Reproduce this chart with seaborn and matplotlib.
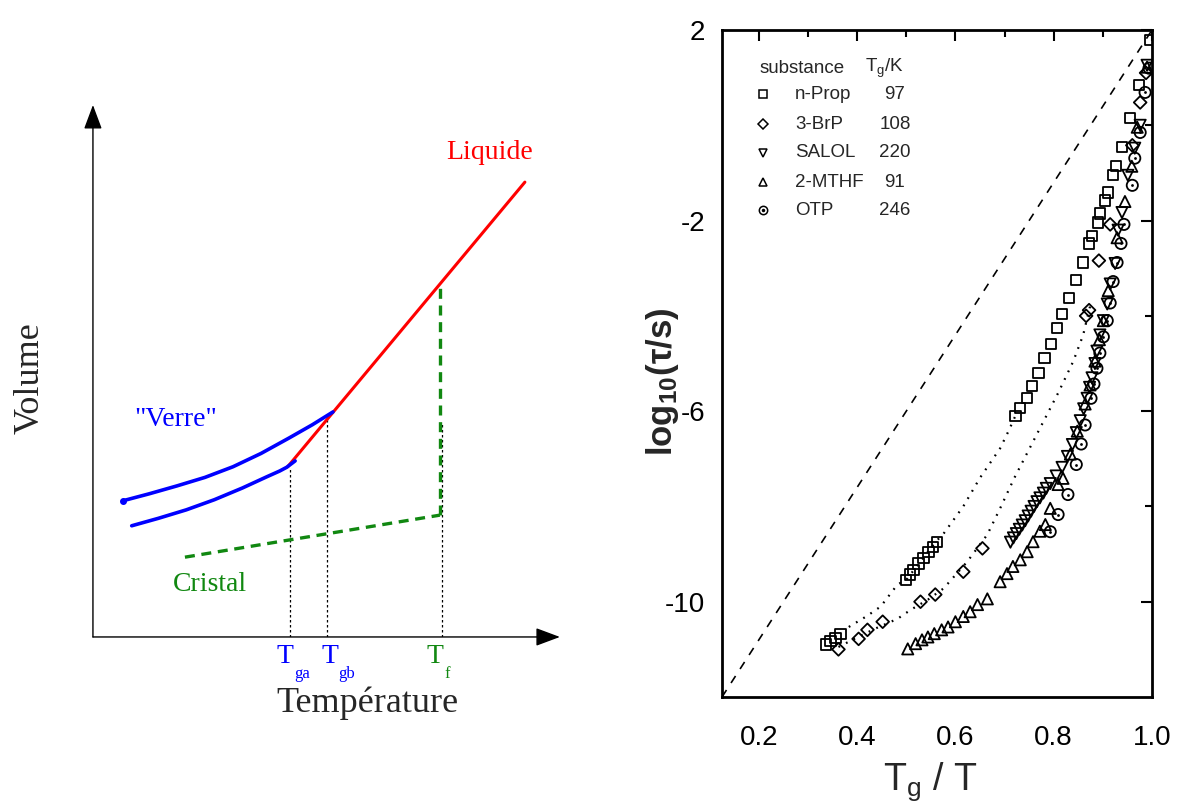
import numpy as np
import pandas as pd
import matplotlib
matplotlib.use("Agg")
import matplotlib.pyplot as plt
import seaborn as sns

# ---------------- data: left schematic (Volume vs Temperature) ----------------
liquid_T = [4.17, 9.25]
liquid_V = [3.20, 8.55]
glass_a_T = [0.83, 1.40, 2.00, 2.60, 3.20, 3.72, 4.00, 4.15, 4.33]
glass_a_V = [2.09, 2.23, 2.39, 2.58, 2.80, 3.01, 3.12, 3.19, 3.31]
glass_b_T = [0.64, 1.20, 1.80, 2.40, 3.00, 3.60, 4.20, 4.70, 5.14]
glass_b_V = [2.56, 2.69, 2.84, 3.00, 3.20, 3.45, 3.74, 3.99, 4.23]
crystal_T = [1.97, 7.43]
crystal_V = [1.50, 2.29]
melt_T = [7.43, 7.43]
melt_V = [2.29, 6.60]
transition_T = [4.22, 5.01, 7.47]
transition_top = [3.20, 4.10, 4.04]
transition_sub = ["ga", "gb", "f"]

# ---------------- data: right panel (log10 tau vs Tg/T) ----------------
substances = ["n-Prop", "3-BrP", "SALOL", "2-MTHF", "OTP"]
tg_values = [97, 108, 220, 91, 246]

nprop_x = [0.336, 0.346, 0.356, 0.366, 0.500, 0.507, 0.515, 0.525, 0.535, 0.545, 0.555, 0.562,
           0.722, 0.732, 0.746, 0.756, 0.769, 0.781, 0.795, 0.807, 0.817, 0.831, 0.846, 0.860,
           0.872, 0.878, 0.890, 0.894, 0.905, 0.911, 0.921, 0.927, 0.939, 0.955, 0.974, 0.996]
nprop_y = [-10.90, -10.82, -10.76, -10.68, -9.54, -9.43, -9.33, -9.20, -9.08, -8.95, -8.85, -8.74,
           -6.10, -5.94, -5.73, -5.47, -5.20, -4.88, -4.59, -4.25, -3.96, -3.62, -3.24, -2.88,
           -2.48, -2.32, -2.04, -1.85, -1.58, -1.41, -1.05, -0.86, -0.46, 0.15, 0.84, 1.79]

brp_x = [0.362, 0.403, 0.421, 0.452, 0.529, 0.559, 0.616, 0.655, 0.866, 0.872, 0.892, 0.915,
         0.960, 0.976, 0.988]
brp_y = [-11.00, -10.78, -10.59, -10.42, -10.00, -9.85, -9.37, -8.88, -4.00, -3.88, -2.84, -2.08,
         -0.42, 0.48, 1.10]

salol_x = [0.712, 0.718, 0.724, 0.730, 0.736, 0.742, 0.748, 0.754, 0.760, 0.766, 0.772, 0.779,
           0.785, 0.793, 0.805, 0.817, 0.828, 0.838, 0.846, 0.854, 0.861, 0.868, 0.873, 0.878,
           0.884, 0.888, 0.894, 0.901, 0.909, 0.915, 0.925, 0.931, 0.939, 0.951, 0.965, 0.976, 0.990]
salol_y = [-8.75, -8.66, -8.57, -8.48, -8.39, -8.30, -8.20, -8.10, -8.00, -7.90, -7.82, -7.72,
           -7.62, -7.52, -7.36, -7.18, -6.95, -6.70, -6.45, -6.20, -5.95, -5.73, -5.50, -5.30,
           -5.00, -4.74, -4.40, -4.10, -3.75, -3.33, -2.90, -2.20, -1.83, -1.05, -0.48, 0.00, 1.26]

mthf_x = [0.503, 0.519, 0.532, 0.544, 0.557, 0.572, 0.585, 0.600, 0.616, 0.630, 0.645, 0.665,
          0.691, 0.705, 0.717, 0.732, 0.746, 0.758, 0.772, 0.783, 0.793, 0.809, 0.819, 0.834,
          0.848, 0.864, 0.874, 0.884, 0.893, 0.901, 0.911, 0.929, 0.945, 0.959, 0.970, 0.990]
mthf_y = [-10.99, -10.88, -10.80, -10.74, -10.67, -10.59, -10.53, -10.42, -10.31, -10.21, -10.06, -9.94,
          -9.58, -9.41, -9.26, -9.12, -8.95, -8.74, -8.52, -8.38, -8.04, -7.54, -7.41, -6.90,
          -6.42, -5.85, -5.45, -4.95, -4.50, -4.10, -3.47, -2.36, -1.60, -0.86, -0.04, 1.22]

otp_x = [0.793, 0.809, 0.829, 0.846, 0.856, 0.864, 0.876, 0.882, 0.888, 0.894, 0.901, 0.909,
         0.915, 0.921, 0.929, 0.937, 0.943, 0.960, 0.965, 0.976, 0.986, 0.994]
otp_y = [-8.53, -8.17, -7.75, -7.12, -6.69, -6.29, -5.73, -5.43, -5.10, -4.78, -4.44, -4.10,
         -3.73, -3.28, -2.88, -2.48, -2.08, -1.26, -0.69, -0.15, 0.69, 1.20]

nprop_fit_x = [0.383, 0.420, 0.448, 0.482, 0.500, 0.560, 0.576, 0.616, 0.650, 0.691, 0.708, 0.722]
nprop_fit_y = [-10.53, -10.30, -10.10, -9.64, -9.54, -8.74, -8.57, -8.00, -7.40, -6.78, -6.42, -6.10]
brp_fit_x = [0.362, 0.400, 0.440, 0.482, 0.509, 0.545, 0.576, 0.624, 0.665, 0.691, 0.720, 0.750,
             0.780, 0.810, 0.840, 0.860, 0.874]
brp_fit_y = [-10.95, -10.75, -10.55, -10.36, -10.17, -9.95, -9.72, -9.16, -8.59, -8.04, -7.40, -6.80,
             -6.20, -5.60, -4.95, -4.40, -3.80]
strong_x = [0.125, 1.0]
strong_y = [-12.0, 2.0]

x_major = [0.2, 0.4, 0.6, 0.8, 1.0]
x_minor = [0.3, 0.5, 0.7, 0.9]
y_major = [2, -2, -6, -10]
y_minor = [0, -4, -8]

# ---------------- style ----------------
sns.set_style("white")
plt.rcParams["font.family"] = ["Liberation Sans", "DejaVu Sans"]
plt.rcParams["axes.unicode_minus"] = False
plt.rcParams["mathtext.fontset"] = "custom"
plt.rcParams["mathtext.rm"] = "Liberation Sans"
plt.rcParams["mathtext.it"] = "Liberation Sans:italic"
plt.rcParams["mathtext.bf"] = "Liberation Sans:bold"

SERIF = ["Liberation Serif", "DejaVu Serif"]
RED, BLUE, GREEN = "#ff0000", "#0000ff", "#118811"

fig = plt.figure(figsize=(11.78, 8.07), dpi=100)
axL = fig.add_axes([0.0789, 0.2107, 0.3964, 0.6592])
axR = fig.add_axes([0.6129, 0.1363, 0.3650, 0.8265])

# ---------------- left schematic ----------------
for t, top in zip(transition_T, transition_top):
    sns.lineplot(x=[t, t], y=[0, top], ax=axL, color="black", lw=0.9,
                 linestyle=(0, (2, 2)), estimator=None, sort=False)
sns.lineplot(x=crystal_T, y=crystal_V, ax=axL, color=GREEN, lw=2.4,
             linestyle=(0, (3, 2)), estimator=None, sort=False)
sns.lineplot(x=melt_T, y=melt_V, ax=axL, color=GREEN, lw=2.4,
             linestyle=(0, (3, 2)), estimator=None, sort=False)
sns.lineplot(x=liquid_T, y=liquid_V, ax=axL, color=RED, lw=2.2, estimator=None, sort=False)
sns.lineplot(x=glass_a_T, y=glass_a_V, ax=axL, color=BLUE, lw=2.6, estimator=None, sort=False)
sns.lineplot(x=glass_b_T, y=glass_b_V, ax=axL, color=BLUE, lw=2.6, estimator=None, sort=False)
axL.plot(glass_b_T[:1], glass_b_V[:1], "o", color=BLUE, ms=4)

axL.set_xlim(0, 10)
axL.set_ylim(0, 10)
axL.axis("off")
arrow = dict(arrowstyle="-|>,head_length=0.75,head_width=0.28", mutation_scale=20,
             lw=1.0, color="black", shrinkA=0, shrinkB=0)
axL.annotate("", xy=(0, 1), xytext=(0, 0), xycoords="axes fraction", arrowprops=arrow)
axL.annotate("", xy=(1, 0), xytext=(0, 0), xycoords="axes fraction", arrowprops=arrow)

axL.text(8.5, 9.1, "Liquide", color=RED, fontsize=20, family=SERIF, ha="center", va="center")
axL.text(1.78, 4.08, '"Verre"', color=BLUE, fontsize=20, family=SERIF, ha="center", va="center")
axL.text(2.5, 0.98, "Cristal", color=GREEN, fontsize=20, family=SERIF, ha="center", va="center")

label_T = [4.12, 5.07, 7.33]
label_col = [BLUE, BLUE, GREEN]
for lt, sub, c in zip(label_T, transition_sub, label_col):
    axL.text(lt, -0.36, "T", color=c, fontsize=20, family=SERIF, ha="center", va="center", clip_on=False)
    axL.annotate(sub, xy=(lt, -0.36), xytext=(6.5, -13), textcoords="offset points",
                 color=c, fontsize=12, family=SERIF, ha="left", va="center", annotation_clip=False)

fig.text(367 / 1178, 1 - 703 / 807, "Température", fontsize=26, family=SERIF,
         ha="center", va="center")
fig.text(30 / 1178, 1 - 378 / 807, "Volume", fontsize=26, family=SERIF,
         ha="center", va="center", rotation=90)

# ---------------- right panel ----------------
sns.lineplot(x=strong_x, y=strong_y, ax=axR, color="black", lw=1.2,
             linestyle=(0, (5, 5)), estimator=None, sort=False)
sns.lineplot(x=nprop_fit_x, y=nprop_fit_y, ax=axR, color="black", lw=1.6,
             linestyle=(0, (0.8, 3)), estimator=None, sort=False)
sns.lineplot(x=brp_fit_x, y=brp_fit_y, ax=axR, color="black", lw=1.6,
             linestyle=(0, (0.8, 3)), estimator=None, sort=False)

series = [
    (nprop_x, nprop_y, "s", 55),
    (brp_x, brp_y, "D", 42),
    (salol_x, salol_y, "v", 65),
    (mthf_x, mthf_y, "^", 65),
    (otp_x, otp_y, "o", 65),
]
for xs, ys, mk, sz in series:
    sns.scatterplot(x=xs, y=ys, ax=axR, marker=mk, s=sz, color="black",
                    facecolor="none", edgecolor="black", linewidth=1.3, zorder=3)
sns.scatterplot(x=otp_x, y=otp_y, ax=axR, marker="o", s=4, color="black",
                linewidth=0, zorder=4)

axR.set_xlim(0.125, 1.0)
axR.set_ylim(-12, 2)
axR.set_xticks(x_major)
axR.set_xticklabels([f"{v:.1f}" for v in x_major])
axR.set_xticks(x_minor, minor=True)
axR.set_yticks(y_major)
axR.set_yticklabels([str(v) for v in y_major])
axR.set_yticks(y_minor, minor=True)
axR.tick_params(which="both", direction="in", top=True, right=True, width=1.5, colors="black")
axR.tick_params(which="major", length=8, labelsize=20)
axR.tick_params(axis="x", which="major", pad=20)
axR.tick_params(axis="y", which="major", pad=12)
axR.tick_params(which="minor", length=5)
for sp in axR.spines.values():
    sp.set_linewidth(2)
    sp.set_color("black")
    sp.set_visible(True)

axR.set_xlabel(r"T$_\mathregular{g}$ / T", fontsize=27)
axR.xaxis.set_label_coords(0.484, -0.095)
axR.set_ylabel(r"log$_\mathregular{10}$(τ/s)", fontsize=25, fontweight="bold")
axR.yaxis.set_label_coords(-0.095, 0.472)

# table-like legend
tr = axR.transAxes
axR.text(0.088, 0.943, "substance", transform=tr, fontsize=13.5, va="center", ha="left")
axR.text(0.333, 0.943, r"T$_\mathregular{g}$/K", transform=tr, fontsize=13.5, va="center", ha="left")
row_y = [0.904, 0.859, 0.816, 0.772, 0.730]
leg_markers = ["s", "D", "v", "^", "o"]
for ry, name, tg, mk in zip(row_y, substances, tg_values, leg_markers):
    axR.plot([0.095], [ry], marker=mk, ms=6 if mk != "D" else 5, mfc="none", mec="black",
             mew=1.1, ls="none", transform=tr, clip_on=False)
    if mk == "o":
        axR.plot([0.095], [ry], marker="o", ms=1.5, color="black", ls="none", transform=tr)
    axR.text(0.170, ry, name, transform=tr, fontsize=13.5, va="center", ha="left")
    axR.text(0.402, ry, str(tg), transform=tr, fontsize=13.5, va="center", ha="center")

fig.savefig("out.png", dpi=100)
